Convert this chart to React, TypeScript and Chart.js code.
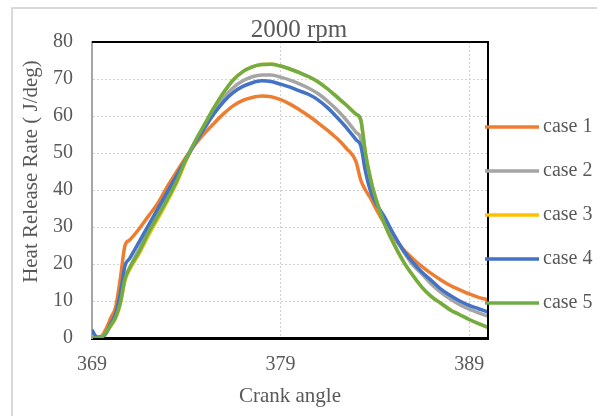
import React, { useEffect, useRef } from 'react';
import { Chart, registerables } from 'chart.js';

Chart.register(...registerables);

// ---- data ----
const crankAngle = [
  369, 369.25, 369.5, 369.75, 370, 370.25, 370.5, 370.75, 371,
  371.5, 372, 372.5, 373, 373.5, 374, 374.5, 375, 375.5, 376, 376.5, 377, 377.5, 378, 378.5,
  379, 379.5, 380, 380.5, 381, 381.5, 382, 382.5, 383,
  383.25, 383.5, 383.75, 384,
  384.5, 385, 385.5, 386, 386.5, 387, 387.5, 388, 388.5, 389, 389.5, 390,
];

const case1 = [
  0, 0, 0.5, 2.5, 5.5, 8.3, 16, 25, 26.5,
  29.5, 33, 36.5, 41, 45, 49, 52.5, 55.5, 58.2, 60.7, 62.8, 64.2, 65, 65.4, 65.2,
  64.4, 63.2, 61.7, 60, 58.1, 56.1, 53.9, 51.2, 47.7,
  42.7, 40, 38, 35.5,
  31, 27.2, 24, 21.5, 19.3, 17.4, 15.7, 14.2, 13, 11.9, 11, 10.3,
];

const case2 = [
  0, 0, 0.3, 1.5, 3.5, 6, 9.5, 16, 19,
  24, 29, 33.5, 38.5, 43.5, 48.5, 53, 57.5, 61.5, 65, 67.7, 69.5, 70.6, 71.1, 71.1,
  70.5, 69.7, 68.7, 67.5, 66, 64, 61.6, 58.8, 55.6,
  54, 46, 40.5, 37,
  32.5, 27.8, 23.5, 19.8, 17.3, 14.5, 12.3, 10.5, 9, 7.8, 6.8, 5.9,
];

const case3 = [
  0, 0, 0.3, 1.5, 3.3, 5.3, 9.2, 15.5, 18.5,
  22.8, 27.8, 32.3, 37, 42, 48, 53.3, 58, 62.5, 66.5, 69.8, 72, 73.3, 73.9, 74,
  73.5, 72.7, 71.7, 70.6, 69.2, 67.3, 65.1, 62.9, 60.5,
  59, 50, 43.5, 38.5,
  31, 25.5, 20.8, 17, 13.7, 11.2, 9.4, 7.6, 6.3, 5, 3.9, 2.9,
];

const case4 = [
  2.2, 0.3, 0.3, 1.3, 4, 6.5, 12, 19.5, 21.5,
  26, 30.5, 35, 39.5, 44, 48.5, 53, 57, 60.8, 64, 66.4, 68, 69, 69.5, 69.3,
  68.6, 67.8, 66.8, 65.8, 64.3, 62.2, 59.6, 56.8, 53.6,
  52, 45, 40, 37,
  32.8, 28, 23.8, 20.5, 17.8, 15.5, 13.2, 11.5, 10, 8.8, 7.9, 7,
];

const case5 = [
  0, 0, 0.3, 1.5, 3.5, 5.5, 9.5, 16, 19,
  23.3, 28.5, 33, 37.5, 42.5, 48.5, 53.5, 58, 62.5, 66.5, 69.8, 72, 73.3, 73.9, 74,
  73.5, 72.7, 71.7, 70.6, 69.2, 67.3, 65.1, 62.9, 60.5,
  59, 50, 43.5, 38.5,
  31, 25.5, 20.8, 17, 13.7, 11.2, 9.4, 7.6, 6.3, 5, 3.9, 2.9,
];

const seriesLabels = ['case 1', 'case 2', 'case 3', 'case 4', 'case 5'];
const seriesColors = ['#ED7D31', '#A5A5A5', '#FFC000', '#4472C4', '#70AD47'];
const xTickValues = [369, 379, 389];
const chartTitle = '2000 rpm';
const xAxisTitle = 'Crank angle';
const yAxisTitle = 'Heat Release Rate ( J/deg)';

const FONT = "'Liberation Serif', 'Times New Roman', serif";
const TEXT = '#595959';

const framePlugin = {
  id: 'frame',
  beforeDraw(chart: any) {
    const ctx = chart.ctx;
    ctx.save();
    ctx.fillStyle = '#ffffff';
    ctx.fillRect(0, 0, chart.width, chart.height);
    ctx.strokeStyle = '#d9d9d9';
    ctx.lineWidth = 2;
    ctx.strokeRect(12, 8, chart.width + 20, chart.height + 20);
    ctx.restore();
  },
  afterDatasetsDraw(chart: any) {
    const ctx = chart.ctx;
    const a = chart.chartArea;
    ctx.save();
    ctx.strokeStyle = '#000000';
    ctx.lineWidth = 2;
    ctx.beginPath();
    ctx.moveTo(a.left, a.top);
    ctx.lineTo(a.right, a.top);
    ctx.lineTo(a.right, a.bottom);
    ctx.stroke();
    ctx.restore();
  },
  afterDraw(chart: any) {
    const ctx = chart.ctx;
    ctx.save();
    ctx.fillStyle = TEXT;
    // title
    ctx.font = `25px ${FONT}`;
    ctx.textAlign = 'center';
    ctx.textBaseline = 'alphabetic';
    ctx.fillText(chartTitle, 299, 37);
    // y axis title
    ctx.save();
    ctx.translate(36.5, 171.5);
    ctx.rotate(-Math.PI / 2);
    ctx.font = `21px ${FONT}`;
    ctx.fillText(yAxisTitle, 0, 0);
    ctx.restore();
    // legend
    ctx.font = `20px ${FONT}`;
    ctx.textAlign = 'left';
    ctx.textBaseline = 'middle';
    chart.data.datasets.forEach((ds: any, i: number) => {
      const y = 127 + i * 44;
      ctx.strokeStyle = ds.borderColor;
      ctx.lineWidth = 3.5;
      ctx.beginPath();
      ctx.moveTo(485, y);
      ctx.lineTo(539, y);
      ctx.stroke();
      ctx.fillStyle = TEXT;
      ctx.fillText(ds.label, 543, y);
    });
    ctx.restore();
  },
};

export default function App() {
  const ref = useRef<HTMLCanvasElement>(null);

  useEffect(() => {
    document.body.style.margin = '0';
    const series = [case1, case2, case3, case4, case5];
    const chart = new Chart(ref.current as HTMLCanvasElement, {
      type: 'line',
      data: {
        datasets: series.map((s, i) => ({
          label: seriesLabels[i],
          data: crankAngle.map((x, j) => ({ x, y: s[j] })),
          borderColor: seriesColors[i],
          backgroundColor: seriesColors[i],
          borderWidth: 3.5,
          pointRadius: 0,
          pointHoverRadius: 0,
          cubicInterpolationMode: 'monotone' as const,
          order: series.length - i,
          fill: false,
        })),
      },
      options: {
        responsive: false,
        animation: false,
        layout: { padding: { left: 12, right: 109, top: 42, bottom: 0 } },
        plugins: {
          legend: { display: false },
          title: { display: false },
          tooltip: { enabled: false },
        },
        scales: {
          x: {
            type: 'linear',
            min: 369,
            max: 390,
            afterBuildTicks: (s: any) => {
              s.ticks = xTickValues.map((value) => ({ value }));
            },
            afterFit: (s: any) => {
              s.height = 78;
            },
            grid: { color: '#d0d0d0', lineWidth: 1, drawTicks: false },
            border: { color: '#000000', width: 3, dash: [2, 2] },
            ticks: {
              padding: 15,
              font: { family: FONT, size: 20 },
              color: TEXT,
              maxRotation: 0,
              autoSkip: false,
              callback: (v: any) => String(v),
            },
            title: {
              display: true,
              text: xAxisTitle,
              font: { family: FONT, size: 21 },
              color: TEXT,
              padding: { top: 0, bottom: 7 },
            },
          },
          y: {
            type: 'linear',
            min: 0,
            max: 80,
            afterFit: (s: any) => {
              s.width = 80;
            },
            grid: { color: '#d0d0d0', lineWidth: 1, drawTicks: false },
            border: { color: '#a6a6a6', width: 2, dash: [2, 2] },
            ticks: {
              stepSize: 10,
              padding: 19,
              font: { family: FONT, size: 20 },
              color: TEXT,
            },
          },
        },
      },
      plugins: [framePlugin],
    } as any);
    return () => chart.destroy();
  }, []);

  return <canvas ref={ref} width={597} height={416} style={{ display: 'block' }} />;
}
